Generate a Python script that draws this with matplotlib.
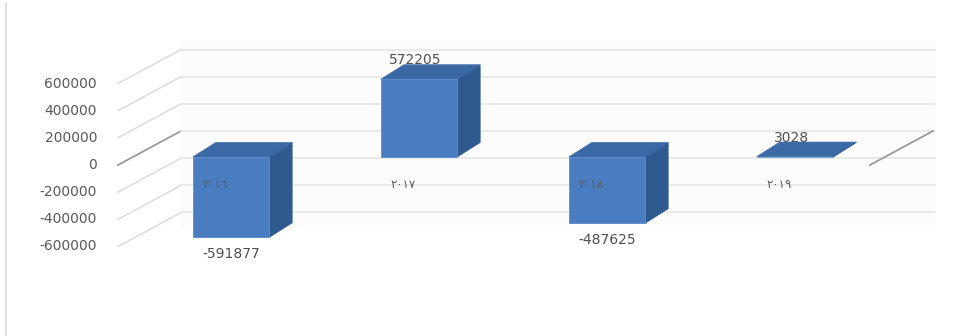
import matplotlib
matplotlib.use("Agg")
import matplotlib.pyplot as plt
from matplotlib.patches import Polygon

# ---- data ----
categories = ["٢٠١٦", "٢٠١٧", "٢٠١٨", "٢٠١٩"]
values = [-591877, 572205, -487625, 3028]
value_labels = ["-591877", "572205", "-487625", "3028"]
yticks = [600000, 400000, 200000, 0, -200000, -400000, -600000]
ytick_labels = ["600000", "400000", "200000", "0", "-200000", "-400000", "-600000"]

# ---- geometry (data units: x = category index, y = value) ----
PX_X = 188.0          # px per category
X0_PX = 231.0         # px of category 0 front centre
PX_V = 7362.0         # value per px
Y0_PX = 165.0         # px of the axis-front zero line
W, H = 964, 336

def vx(px):
    return (px - X0_PX) / PX_X

def vy(px):
    return (Y0_PX - px) * PX_V

DX, DY = 63 / PX_X, 34 * PX_V        # wall depth offset
BDX, BDY = 23 / PX_X, 14.5 * PX_V    # bar depth offset
Z0 = 8 * PX_V                         # bar baseline offset
HALF = 0.203                          # half width of bar front face

XL = vx(118)        # left front of side wall
XR = vx(935)        # right of back wall
XRF = vx(870)       # right floor front

fig = plt.figure(figsize=(W / 100, H / 100), dpi=100)
ax = fig.add_axes([0, 0, 1, 1])
ax.set_xlim(vx(0), vx(W))
ax.set_ylim(vy(H), vy(0))
ax.axis("off")

# left faint frame line
ax.plot([vx(6), vx(6)], [vy(3), vy(H)], color="#dcdcdc", lw=1.2, zorder=0)

# back wall faint fill
ax.add_patch(Polygon([(XL + DX, vy(40)), (XR, vy(40)), (XR, vy(228)), (XL + DX, vy(228))],
                     closed=True, facecolor="#fcfcfc", edgecolor="none", zorder=0))

# gridlines: side wall diagonals + back wall horizontals
for v in yticks:
    col = "#9a9a9a" if v == 0 else "#dcdcdc"
    lw = 1.3 if v == 0 else 1.1
    ax.plot([XL, XL + DX], [v, v + DY], color=col, lw=lw, zorder=1)
    ax.plot([XL + DX, XR], [v + DY, v + DY], color="#e6e6e6", lw=1.2, zorder=1)
# right floor edge at zero
ax.plot([XRF, XRF + DX], [0, DY], color="#9a9a9a", lw=1.3, zorder=1)

# y tick labels
for v, t in zip(yticks, ytick_labels):
    ax.text(vx(97), v, t, ha="right", va="center", fontsize=10,
            color="#595959", family="DejaVu Sans", zorder=5)

FRONT, SIDE, TOP = "#4a7dc0", "#2e5a8f", "#3b69a6"

for i, (v, lab, vl) in enumerate(zip(values, categories, value_labels)):
    x0, x1 = i - HALF, i + HALF
    lo, hi = Z0 + min(v, 0), Z0 + max(v, 0)
    # side face
    ax.add_patch(Polygon([(x1, lo), (x1, hi), (x1 + BDX, hi + BDY), (x1 + BDX, lo + BDY)],
                         closed=True, facecolor=SIDE, edgecolor=SIDE, lw=0.5, zorder=3))
    # top face
    ax.add_patch(Polygon([(x0, hi), (x1, hi), (x1 + BDX, hi + BDY), (x0 + BDX, hi + BDY)],
                         closed=True, facecolor=TOP, edgecolor=TOP, lw=0.5, zorder=3))
    # front face
    ax.add_patch(Polygon([(x0, lo), (x1, lo), (x1, hi), (x0, hi)],
                         closed=True, facecolor=FRONT, edgecolor="#5b8dd0", lw=0.6, zorder=4))
    # value label
    if v >= 0:
        ax.text(i - 0.02, hi + 19 * PX_V, vl, ha="center", va="center", fontsize=10,
                color="#505050", zorder=6)
    else:
        ax.text(i, lo - 17 * PX_V, vl, ha="center", va="center", fontsize=10,
                color="#505050", zorder=6)
    # category label
    ax.text(i - 16 / PX_X, vy(185), lab, ha="center", va="center", fontsize=8.5,
            color="#595959", family="DejaVu Sans", zorder=6)

fig.savefig("out.png", dpi=100, facecolor="white")
